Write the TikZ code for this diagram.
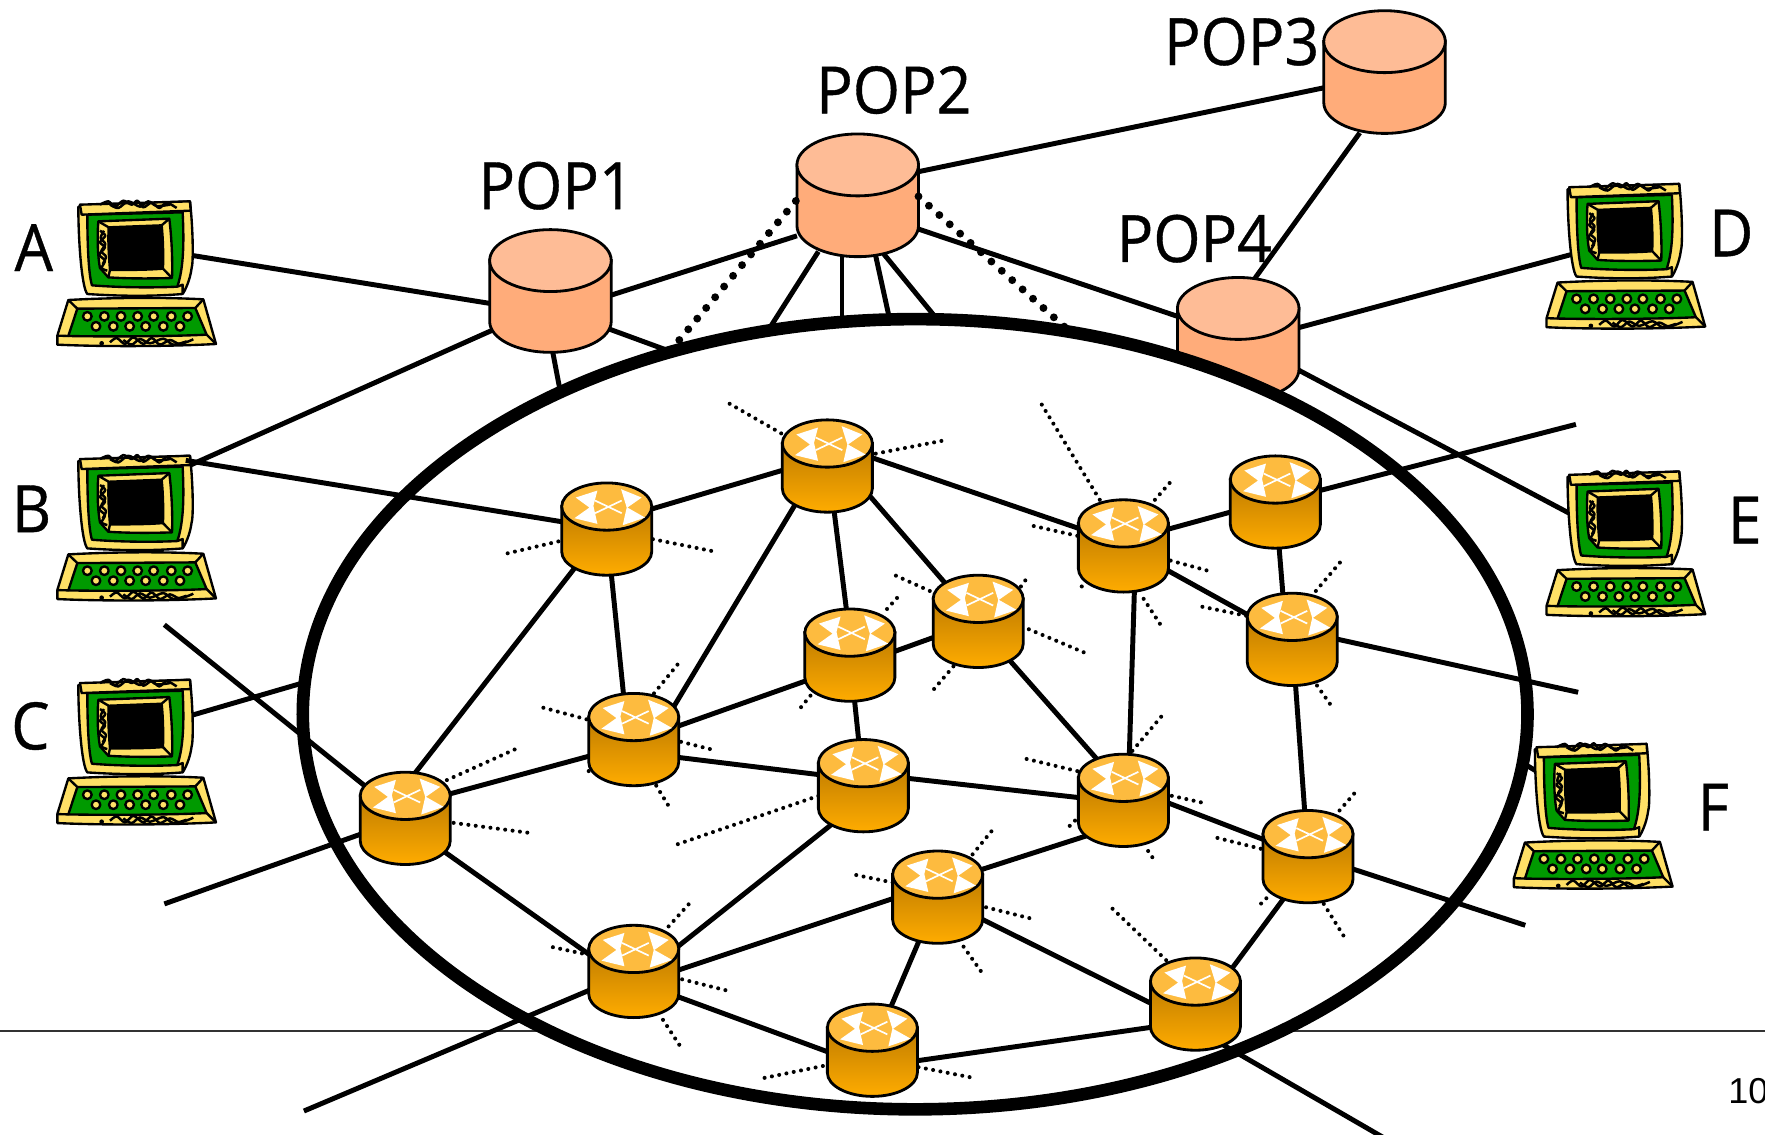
\documentclass[tikz,border=0pt]{standalone}
\usepackage{fontspec}
\setmainfont{Open Sans}
\newfontfamily\popfont[FakeStretch=0.93,FakeBold=0.6]{Open Sans}
\newfontfamily\numfont{Liberation Sans}
\definecolor{rtopc}{HTML}{FDBB3F}
\definecolor{rdark}{HTML}{BF7C00}
\definecolor{rlight}{HTML}{FFAC00}
\definecolor{poptop}{HTML}{FEBC96}
\definecolor{popbody}{HTML}{FFAC7A}
\definecolor{pcyellow}{HTML}{FFE066}
\definecolor{pcgreen}{HTML}{009A00}
\tikzset{
  x=0.5pt,y=-0.5pt,
  link/.style={line width=2.2pt,line cap=butt},
  ringline/.style={line width=5.6pt,fill=white},
  bigdots/.style={line width=3.5pt,line cap=round,dash pattern=on 0pt off 6.2pt},
  ray/.style={line width=1.8pt,line cap=round,dash pattern=on 0pt off 3.3pt},
  label/.style={font=\popfont\fontsize{29}{29}\selectfont,inner sep=0pt},
  router/.pic={
    \path[draw=black,line width=1.25pt,top color=rdark,bottom color=rlight]
      (-40,-20) -- (-40,20) .. controls (-40,31.6) and (-22,41) .. (0,41)
      .. controls (22,41) and (40,31.6) .. (40,20) -- (40,-20) -- cycle;
    \path[draw=black,line width=1.25pt,fill=rtopc] (0,-20) ellipse [x radius=20pt,y radius=10.5pt];
    \begin{scope}[shift={(0,-20)},scale=0.296]
      \fill[white] (-93,-27) -- (-28,-48) -- (-40,-2) -- (-28,52) -- (-97,35) -- (-52,3) -- cycle;
      \fill[white] (43,-52) -- (105,-27) -- (62,3) -- (115,33) -- (48,56) -- (60,3) -- cycle;
      \draw[white,line width=0.75pt] (-35,-18) -- (45,20) (-35,20) -- (45,-18);
    \end{scope}
  },
  popdb/.pic={
    \path[draw=black,line width=1.25pt,fill=popbody]
      (-54,-27) -- (-54,27) .. controls (-54,42.2) and (-30,54.5) .. (0,54.5)
      .. controls (30,54.5) and (54,42.2) .. (54,27) -- (54,-27) -- cycle;
    \path[draw=black,line width=1.25pt,fill=poptop] (0,-27) ellipse [x radius=27pt,y radius=13.75pt];
  },
  computer/.pic={
    \begin{scope}[line width=1.05pt,line join=round]
    % monitor
    \path[draw=black,fill=pcyellow] (235,78) -- (570,62) .. controls (580,150) and (580,250) .. (575,262)
      .. controls (570,300) and (555,330) .. (548,340) .. controls (450,348) and (350,346) .. (262,340)
      .. controls (245,320) and (235,180) .. (235,78) -- cycle;
    \path[draw=black,fill=pcgreen] (262,102) -- (548,95) .. controls (552,180) and (552,260) .. (532,318)
      .. controls (450,322) and (350,320) .. (276,314) .. controls (265,280) and (262,180) .. (262,102) -- cycle;
    \path[draw=black,fill=pcyellow] (295,122) -- (508,114) .. controls (516,180) and (518,250) .. (516,292)
      .. controls (450,294) and (380,294) .. (325,290) -- (300,262) .. controls (292,220) and (292,160) .. (295,122) -- cycle;
    \path[draw=black,fill=black] (326,140) -- (485,134) .. controls (490,180) and (490,230) .. (489,264)
      .. controls (440,268) and (380,268) .. (330,268) .. controls (326,220) and (324,180) .. (326,140) -- cycle;
    \draw (295,122) -- (326,140) (508,114) -- (485,134) (516,292) -- (489,264) (325,290) -- (330,268);
    % top trim
    \path[draw=black,fill=pcyellow] (240,72) -- (570,62) -- (572,90) -- (245,102) -- cycle;
    \draw[line width=1.1pt] plot[smooth] coordinates {(300,72) (325,62) (345,78) (370,60) (395,72) (412,60) (430,80) (455,66) (478,82) (500,66) (530,82)};
    \draw[line width=1.1pt] plot[smooth] coordinates {(330,72) (355,82) (385,62) (420,78) (445,62) (470,76) (510,72)};
    \draw (548,340) -- (548,312) -- (532,318);
    % left frame ornament
    \draw[line width=1.1pt] plot[smooth] coordinates {(300,150) (316,165) (300,185) (315,200) (298,222) (315,240) (305,262) (322,270)};
    \draw[line width=1.1pt] plot[smooth] coordinates {(312,150) (302,172) (316,190) (304,212) (318,228) (308,250)};
    % keyboard
    \path[draw=black,fill=pcyellow] (205,358) .. controls (350,350) and (500,350) .. (610,356) -- (648,490)
      .. controls (500,498) and (300,498) .. (172,492) -- (172,465) -- cycle;
    \path[draw=black,fill=pcgreen] (232,384) -- (586,382) -- (620,462) .. controls (500,468) and (300,468) .. (205,466) -- cycle;
    \draw (205,358) -- (232,384) (610,356) -- (586,382) (620,462) -- (648,490) (205,466) -- (172,465);
    \foreach \kx in {262,313,363,413,461,514,563} \path[draw=black,line width=1.05pt,fill=pcyellow] (\kx,407) circle [radius=13];
    \foreach \kx in {288,340,389,437,490,540} \path[draw=black,line width=1.05pt,fill=pcyellow] (\kx,437) circle [radius=13];
    \draw[line width=1.1pt] plot[smooth] coordinates {(330,485) (350,472) (375,490) (400,470) (430,490) (455,472) (480,492) (510,478) (540,490) (580,476)};
    \draw[line width=1.1pt] plot[smooth] coordinates {(370,478) (395,492) (420,475) (450,488) (490,474) (520,492) (560,482)};
    \fill (305,488) circle [radius=7];
    \end{scope}
  }
}
\newcommand{\lnk}[4]{\draw[link] ([shift={(#2)}]#1) -- ([shift={(#4)}]#3);}
\begin{document}
\begin{tikzpicture}
\useasboundingbox (0,0) rectangle (1568,1008);
\fill[white] (0,0) rectangle (1568,1008);
% named places
\coordinate (ruleL) at (0,916);
\coordinate (ruleR) at (1568,916);
\coordinate (pop1) at (489,258.5);
\coordinate (pop2) at (762,173.5);
\coordinate (pop3) at (1230,64);
\coordinate (pop4) at (1100,301);
\coordinate (ring) at (813,634.5);
\coordinate (pcA) at (165,226);
\coordinate (pcB) at (165,415);
\coordinate (pcBb) at (165,409);
\coordinate (pcC) at (165,637);
\coordinate (pcD) at (1400,225);
\coordinate (pcE) at (1398,458);
\coordinate (pcF) at (1368,687);
\foreach \n/\p in {r1/{539,470},r2/{735,414},r3/{563,657},r4/{755,582},r5/{869,552},r6/{767,698},
  r7/{998,485},r8/{1133,446},r9/{1148,568},r10/{998,711},r11/{1162,761},r12/{360,727},
  r13/{563,863},r14/{833,797},r15/{775,933},r16/{1062,892}}
  \coordinate (\n) at (\p);
% free ends
\coordinate (e1a) at (501,365);
\coordinate (e1b) at (625,323);
\coordinate (e2a) at (670,313);
\coordinate (e2b) at (748,305);
\coordinate (e2c) at (795,305);
\coordinate (e2d) at (850,305);
\coordinate (eCr) at (292,600);
\coordinate (eFr) at (1340,670);
\coordinate (d2l) at (601,305);
\coordinate (d2r) at (952,296);
\coordinate (s8) at (1400,377);
\coordinate (s9) at (1402,615);
\coordinate (s11) at (1355,822);
\coordinate (s16) at (1228,1010);
\coordinate (s13) at (270,987);
\coordinate (s12a) at (146,803);
\coordinate (s12b) at (146,555);
% footer
\draw[line width=0.7pt,black!80] (ruleL) -- (ruleR);
\node[anchor=west,inner sep=0pt,font=\numfont\fontsize{16}{16}\selectfont] (pagenum) at (1535,969) {10};
% outer connectors
\lnk{pop2}{54,-21}{pop3}{-54,14}
\lnk{pop3}{-22,54}{pop4}{15,-54}
\lnk{pop1}{53,4}{pop2}{-54,36}
\lnk{pop2}{54,30}{pop4}{-54,-20}
\lnk{pcA}{0,0}{pop1}{-54,11}
\lnk{pcB}{0,0}{pop1}{-52,35}
\lnk{pop1}{2,54}{e1a}{0,0}
\lnk{pop1}{50,33}{e1b}{0,0}
\lnk{pop2}{-35,50}{e2a}{0,0}
\lnk{pop2}{-14,54}{e2b}{0,0}
\lnk{pop2}{16,54}{e2c}{0,0}
\lnk{pop2}{23,52}{e2d}{0,0}
\lnk{pop4}{54,-10}{pcD}{0,0}
\lnk{pop4}{54,28}{pcE}{0,0}
\lnk{pcC}{0,0}{eCr}{0,0}
\lnk{eFr}{0,0}{pcF}{0,0}
% POP cylinders
\pic at (pop1) {popdb};
\pic at (pop2) {popdb};
\pic at (pop3) {popdb};
\pic at (pop4) {popdb};
\draw[bigdots] ([shift={(-55,5)}]pop2) -- (d2l);
\draw[bigdots] ([shift={(54,1)}]pop2) -- (d2r);
% ring
\path[draw=black,ringline] (ring) ellipse [x radius=272pt,y radius=175.5pt];
% computers
\pic[scale=0.2961] at (0,160.5) {computer};
\pic[scale=0.2961] at (0,386.5) {computer};
\pic[scale=0.2961] at (0,585.5) {computer};
\pic[scale=0.2961] at (1323,145) {computer};
\pic[scale=0.2961] at (1323,400.5) {computer};
\pic[scale=0.2961] at (1294,642.5) {computer};
% backbone links
\lnk{r1}{0,-6}{r2}{0,-8}
\lnk{r1}{0,-2}{r12}{0,-29}
\lnk{r1}{0,0}{r3}{-5,0}
\lnk{r2}{-8,0}{r3}{18,0}
\lnk{r2}{1,0}{r4}{2,0}
\lnk{r2}{0,-17}{r5}{0,0}
\lnk{r2}{0,-21}{r7}{0,-2}
\lnk{r3}{0,2}{r4}{0,9}
\lnk{r4}{0,11}{r5}{0,0}
\lnk{r4}{0,0}{r6}{0,0}
\lnk{r3}{0,11}{r6}{0,-5}
\lnk{r3}{0,4}{r12}{0,-11}
\lnk{r6}{0,-11}{r10}{0,2}
\lnk{r5}{0,3}{r10}{0,-10}
\lnk{r7}{11,0}{r10}{4,0}
\lnk{r7}{0,-4}{r8}{0,-2}
\lnk{r7}{0,0}{r9}{0,0}
\lnk{r8}{0,0}{r9}{-5,0}
\lnk{r9}{0,0}{r11}{0,0}
\lnk{r10}{0,-13}{r11}{0,0}
\lnk{r10}{0,21}{r14}{0,-12}
\lnk{r6}{0,12}{r13}{0,9}
\lnk{r12}{0,5}{r13}{0,13}
\lnk{r13}{0,12}{r14}{0,-12}
\lnk{r13}{0,8}{r15}{0,16}
\lnk{r14}{0,0}{r15}{0,0}
\lnk{r14}{0,0}{r16}{0,19}
\lnk{r15}{0,15}{r16}{0,15}
\lnk{r16}{9,0}{r11}{6,0}
\lnk{r8}{0,0}{s8}{0,0}
\lnk{r9}{0,-9}{s9}{0,0}
\lnk{r11}{0,-2}{s11}{0,0}
\lnk{r16}{0,22}{s16}{0,0}
\lnk{r13}{0,0}{s13}{0,0}
\lnk{r12}{0,0}{s12a}{0,0}
\lnk{r12}{0,0}{s12b}{0,0}
\lnk{pcBb}{0,0}{r1}{0,0}
% faint dotted rays
\foreach \a/\b in {
 {496,481}/{449,492},{580,479}/{635,490},
 {694,385}/{647,358},{778,403}/{840,391},
 {581,616}/{603,589},{521,639}/{480,628},{605,659}/{637,667},{583,698}/{594,716},{523,685}/{520,690},
 {397,693}/{459,665},{403,731}/{471,740},
 {720,618}/{711,629},{788,541}/{798,530},
 {826,525}/{795,511},{907,521}/{912,514},{914,559}/{964,580},{847,592}/{829,613},
 {727,707}/{599,751},
 {977,444}/{924,357},{1026,444}/{1040,428},{957,476}/{917,467},{1040,498}/{1073,507},{961,521}/{957,526},{1016,532}/{1031,555},
 {1107,547}/{1068,539},{1169,525}/{1191,499},{1170,609}/{1182,626},
 {957,685}/{911,674},{1006,667}/{1033,635},{1041,707}/{1068,713},{955,729}/{950,734},{1020,756}/{1024,762},
 {1120,754}/{1080,744},{1190,720}/{1203,705},{1125,798}/{1120,803},{1176,803}/{1194,832},
 {1036,853}/{987,806},
 {594,823}/{613,802},{517,847}/{489,841},{606,870}/{646,880},{589,906}/{604,929},
 {864,759}/{882,737},{793,784}/{759,777},{876,806}/{916,816},{856,841}/{873,865},
 {731,947}/{677,958},{816,948}/{862,957}}
  \draw[ray] (\a) -- (\b);
% routers
\foreach \n in {r1,r2,r3,r4,r5,r6,r7,r8,r9,r10,r11,r12,r13,r14,r15,r16}
  \pic at (\n) {router};
% labels
\node[label] (lA) at (30,220) {A};
\node[label] (lB) at (28,452) {B};
\node[label] (lC) at (27,645) {C};
\node[label] (lD) at (1538,207) {D};
\node[label] (lE) at (1550,462) {E};
\node[label] (lF) at (1522,717) {F};
\node[label] (lP1) at (494,165) {POP1};
\node[label] (lP2) at (794,80) {POP2};
\node[label] (lP3) at (1103,37) {POP3};
\node[label] (lP4) at (1061,212) {POP4};
\end{tikzpicture}
\end{document}
